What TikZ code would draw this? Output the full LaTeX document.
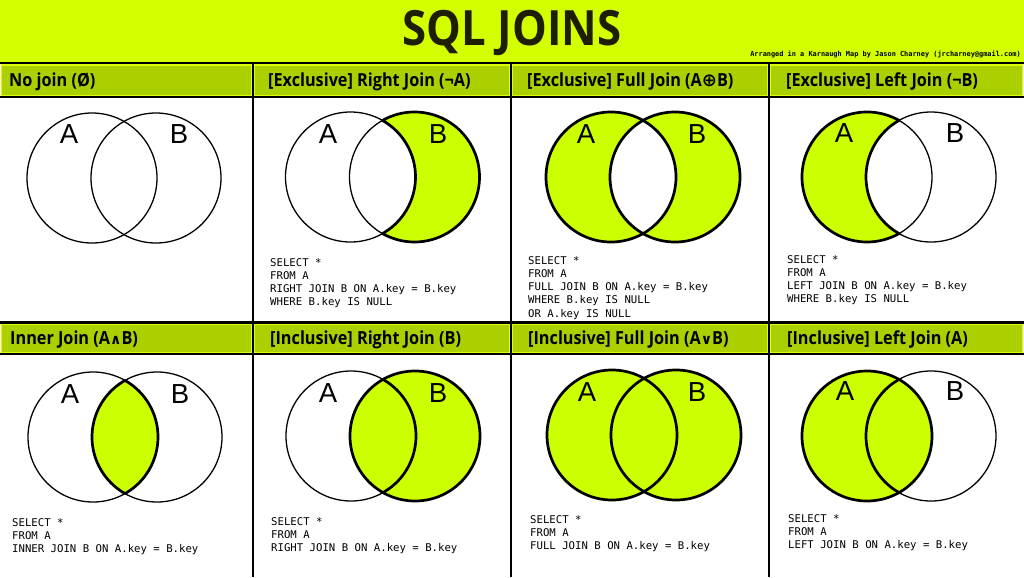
\documentclass[tikz,border=0pt]{standalone}
\usepackage{fontspec}
\setmainfont{Liberation Sans}
\newfontfamily\hdrfont{Open Sans}[FakeStretch=0.9]
\newfontfamily\symfont{DejaVu Sans}
\newfontfamily\codefont{DejaVu Sans Mono}
\definecolor{titlebg}{RGB}{212,255,0}
\definecolor{hdrbg}{RGB}{170,208,0}
\definecolor{hdredge}{RGB}{222,255,0}
\definecolor{vennfill}{RGB}{204,255,0}
\definecolor{titleink}{RGB}{30,30,0}
\newcommand{\vCircA}[2]{(#1-32,#2) circle[radius=1.95cm]}
\newcommand{\vCircB}[2]{(#1+32,#2) circle[radius=1.95cm]}
\newcommand{\vBmA}[2]{(#1,#2+56.58) arc[start angle=119.5,end angle=-119.5,radius=1.95cm] arc[start angle=-60.5,end angle=60.5,radius=1.95cm] -- cycle}
\newcommand{\vAmB}[2]{(#1,#2+56.58) arc[start angle=60.5,end angle=299.5,radius=1.95cm] arc[start angle=240.5,end angle=119.5,radius=1.95cm] -- cycle}
\newcommand{\vLens}[2]{(#1,#2+56.58) arc[start angle=119.5,end angle=240.5,radius=1.95cm] arc[start angle=-60.5,end angle=60.5,radius=1.95cm] -- cycle}
\newcommand{\vArcAin}[2]{(#1,#2-56.58) arc[start angle=-60.5,end angle=60.5,radius=1.95cm]}
\newcommand{\vArcBin}[2]{(#1,#2+56.58) arc[start angle=119.5,end angle=240.5,radius=1.95cm]}
\tikzset{
  thinc/.style={draw=black,line width=1.1pt},
  thickc/.style={draw=black,line width=2.3pt,line join=round},
  vfill/.style={fill=vennfill},
  hdrbox/.style={fill=hdrbg,draw=hdredge,line width=0.9pt},
  hdrtext/.style={anchor=base west,inner sep=0pt,font=\hdrfont\bfseries\fontsize{15.4}{16}\selectfont,text=black},
  codetext/.style={anchor=north west,inner sep=0pt,align=left,font=\codefont\fontsize{9.1}{11.3}\selectfont,text=black},
  vlabel/.style={anchor=base,inner sep=0pt,font=\fontsize{23.5}{24}\selectfont},
  sepline/.style={draw=black,line width=1.8pt}
}
\begin{document}
\begin{tikzpicture}[x=0.03cm,y=0.03cm]
\useasboundingbox (0,0) rectangle (1024,-577);
\fill[white] (0,0) rectangle (1024,-577);
% title band
\fill[titlebg] (0,0) rectangle (1024,-63);
\node[anchor=base,inner sep=0pt,font=\hdrfont\bfseries\fontsize{41.5}{42}\selectfont,text=titleink] (title) at (512,-45) {SQL JOINS};
\node[anchor=base east,inner sep=0pt,font=\codefont\bfseries\fontsize{5.9}{6}\selectfont] (credit) at (1021,-56) {Arranged in a Karnaugh Map by Jason Charney (jrcharney@gmail.com)};
% header rows
\foreach \xl/\xr in {0/253,253/511,511/769,769/1024}{
  \path[hdrbox] (\xl+1.5,-65) rectangle (\xr-1.5,-95.5);
  \path[hdrbox] (\xl+1.5,-324) rectangle (\xr-1.5,-352.5);
}
% separator lines
\draw[black,line width=2.4pt] (0,-63) -- (1024,-63);
\draw[sepline] (0,-97) -- (1024,-97);
\draw[sepline] (0,-322.5) -- (1024,-322.5);
\draw[sepline] (0,-354) -- (1024,-354);
\foreach \xs in {253,511,769}{\draw[sepline] (\xs,-63) -- (\xs,-577);}
% header texts
\node[hdrtext] (h1) at (9,-86) {No join (Ø)};
\node[hdrtext] (h2) at (268,-86) {[Exclusive] Right Join (¬A)};
\node[hdrtext] (h3) at (527,-86) {[Exclusive] Full Join (A{\symfont\bfseries ⊕}B)};
\node[hdrtext] (h4) at (786,-86) {[Exclusive] Left Join (¬B)};
\node[hdrtext] (h5) at (10,-344) {Inner Join (A{\symfont\bfseries\fontsize{12}{12}\selectfont ∧}B)};
\node[hdrtext] (h6) at (270,-344) {[Inclusive] Right Join (B)};
\node[hdrtext] (h7) at (528,-344) {[Inclusive] Full Join (A{\symfont\bfseries\fontsize{12}{12}\selectfont ∨}B)};
\node[hdrtext] (h8) at (787,-344) {[Inclusive] Left Join (A)};
% ---- row 1 ----
% panel 1: no join
\draw[thinc] \vCircA{124}{-178};
\draw[thinc] \vCircB{124}{-178};
\node[vlabel] (la1) at (69,-143) {A};
\node[vlabel] (lb1) at (179,-143) {B};
% panel 2: exclusive right
\fill[vfill] \vBmA{382.5}{-177};
\draw[thinc] \vCircA{382.5}{-177};
\draw[thinc] \vCircB{382.5}{-177};
\draw[thickc] \vBmA{382.5}{-177};
\node[vlabel] (la2) at (328,-143) {A};
\node[vlabel] (lb2) at (438,-143) {B};
\node[codetext] (c2) at (270,-258) {SELECT *\\FROM A\\RIGHT JOIN B ON A.key = B.key\\WHERE B.key IS NULL};
% panel 3: exclusive full
\fill[vfill] \vBmA{643}{-177};
\fill[vfill] \vAmB{643}{-177};
\draw[thickc] \vCircA{643}{-177};
\draw[thickc] \vCircB{643}{-177};
\node[vlabel] (la3) at (586,-143) {A};
\node[vlabel] (lb3) at (697,-143) {B};
\node[codetext] (c3) at (528,-256) {SELECT *\\FROM A\\FULL JOIN B ON A.key = B.key\\WHERE B.key IS NULL\\OR A.key IS NULL};
% panel 4: exclusive left
\fill[vfill] \vAmB{899}{-177};
\draw[thinc] \vCircA{899}{-177};
\draw[thinc] \vCircB{899}{-177};
\draw[thickc] \vAmB{899}{-177};
\node[vlabel] (la4) at (844,-142) {A};
\node[vlabel] (lb4) at (955,-142) {B};
\node[codetext] (c4) at (787,-255) {SELECT *\\FROM A\\LEFT JOIN B ON A.key = B.key\\WHERE B.key IS NULL};
% ---- row 2 ----
% panel 5: inner
\fill[vfill] \vLens{125}{-437};
\draw[thinc] \vCircA{125}{-437};
\draw[thinc] \vCircB{125}{-437};
\draw[thickc] \vLens{125}{-437};
\node[vlabel] (la5) at (70,-403) {A};
\node[vlabel] (lb5) at (180,-403) {B};
\node[codetext] (c5) at (12,-518) {SELECT *\\FROM A\\INNER JOIN B ON A.key = B.key};
% panel 6: inclusive right
\fill[vfill] \vCircB{383}{-436};
\draw[thinc] \vCircA{383}{-436};
\draw[thickc] \vCircB{383}{-436};
\draw[thickc] \vArcAin{383}{-436};
\node[vlabel] (la6) at (328,-402) {A};
\node[vlabel] (lb6) at (438,-402) {B};
\node[codetext] (c6) at (271,-517) {SELECT *\\FROM A\\RIGHT JOIN B ON A.key = B.key};
% panel 7: inclusive full
\fill[vfill] \vCircA{644}{-435};
\fill[vfill] \vCircB{644}{-435};
\draw[thickc] \vCircA{644}{-435};
\draw[thickc] \vCircB{644}{-435};
\node[vlabel] (la7) at (587,-401) {A};
\node[vlabel] (lb7) at (697,-401) {B};
\node[codetext] (c7) at (530,-515) {SELECT *\\FROM A\\FULL JOIN B ON A.key = B.key};
% panel 8: inclusive left
\fill[vfill] \vCircA{899}{-436};
\draw[thinc] \vCircB{899}{-436};
\draw[thickc] \vCircA{899}{-436};
\draw[thickc] \vArcBin{899}{-436};
\node[vlabel] (la8) at (845,-400) {A};
\node[vlabel] (lb8) at (955,-400) {B};
\node[codetext] (c8) at (788,-514) {SELECT *\\FROM A\\LEFT JOIN B ON A.key = B.key};
\end{tikzpicture}
\end{document}
